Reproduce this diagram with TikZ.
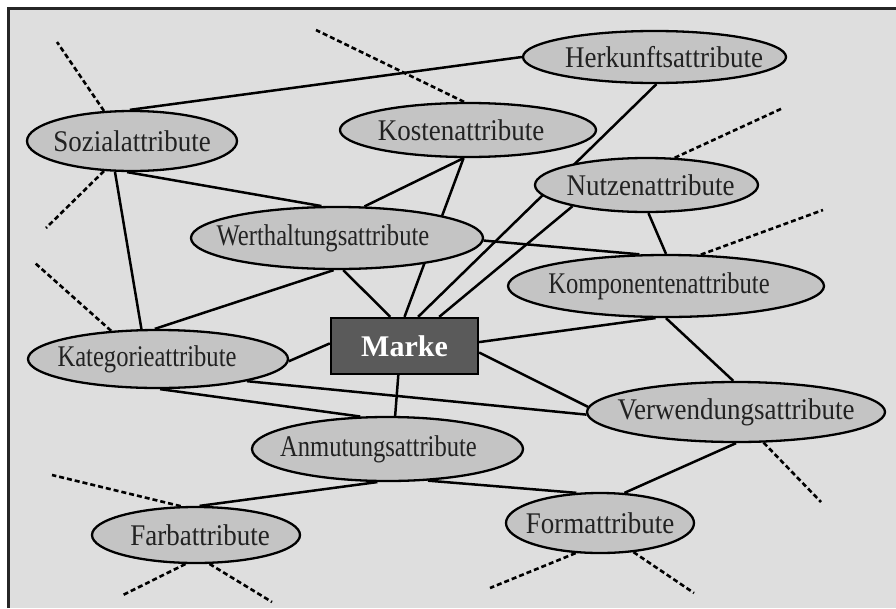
\documentclass[tikz,border=0pt]{standalone}
\usepackage{fontspec}
\setmainfont{Liberation Serif}
\newfontfamily\labelserif[FakeStretch=0.9]{Liberation Serif}
\newfontfamily\narrowserif[FakeStretch=0.82]{Liberation Serif}
\usetikzlibrary{shapes.geometric}
\pgfdeclarelayer{panel}
\pgfdeclarelayer{links}
\pgfsetlayers{panel,links,main}
\definecolor{panelgray}{RGB}{222,222,222}
\definecolor{attrgray}{RGB}{196,196,196}
\definecolor{brandgray}{RGB}{90,90,90}
\definecolor{inkgray}{RGB}{34,34,34}
% shift a label sideways inside its ellipse by #1
\newcommand{\nudge}[2]{\hspace*{#1}\hspace*{#1}#2}
\tikzset{
  attr/.style={ellipse, draw=black, line width=2.3pt, fill=attrgray,
    inner xsep=-80pt, inner ysep=-14pt,
    text=inkgray, font=\fontsize{30}{32}\labelserif},
  narrow/.style={font=\fontsize{30}{32}\narrowserif},
  brand/.style={rectangle, draw=black, line width=2.3pt, fill=brandgray, text=white,
    font=\fontsize{30}{32}\selectfont\bfseries, minimum width=147pt, minimum height=56pt, inner sep=0pt},
  link/.style={line width=2.5pt, draw=black},
  hint/.style={line width=2.6pt, draw=black, dash pattern=on 5pt off 3pt}
}
\begin{document}
\begin{tikzpicture}[x=1pt,y=-1pt]
\useasboundingbox (0,0) rectangle (896,608);
\begin{pgfonlayer}{panel}
  \fill[panelgray] (8.5,8.5) rectangle (896,608);
  \draw[line width=3pt, color=black!85] (8.5,608) -- (8.5,8.5) -- (896,8.5);
\end{pgfonlayer}

% attribute ellipses and the brand box
\node[attr, minimum width=263pt, minimum height=52pt] (her) at (654.5,57) {\nudge{9.5pt}{Herkunftsattribute}};
\node[attr, minimum width=210pt, minimum height=60pt] (soz) at (132,141) {Sozialattribute};
\node[attr, minimum width=256pt, minimum height=54pt] (kos) at (468,130) {\nudge{-7pt}{Kostenattribute}};
\node[attr, minimum width=223pt, minimum height=54pt] (nut) at (646.5,185) {\nudge{4pt}{Nutzenattribute}};
\node[attr, narrow, minimum width=292pt, minimum height=62pt] (wer) at (337,238) {\nudge{-14pt}{Werthaltungsattribute}};
\node[attr, narrow, minimum width=316pt, minimum height=62pt] (kom) at (666,286) {\nudge{-7pt}{Komponentenattribute}};
\node[brand] (mar) at (404.5,346) {Marke};
\node[attr, narrow, minimum width=260pt, minimum height=58pt] (kat) at (158,359) {\nudge{-11pt}{Kategorieattribute}};
\node[attr, minimum width=298pt, minimum height=60pt] (ver) at (736,412) {Verwendungsattribute};
\node[attr, narrow, minimum width=271pt, minimum height=64pt] (anm) at (387.5,449) {\nudge{-9pt}{Anmutungsattribute}};
\node[attr, minimum width=208pt, minimum height=56pt] (far) at (196,535) {\nudge{4pt}{Farbattribute}};
\node[attr, minimum width=188pt, minimum height=60pt] (for) at (600,523) {Formattribute};

% free ends of the dashed hints
\coordinate (hsozA) at (57,42);
\coordinate (hsozB) at (46,228);
\coordinate (hkos) at (316,30);
\coordinate (hnut) at (783,108);
\coordinate (hkom) at (823,210);
\coordinate (hkat) at (35,263);
\coordinate (hver) at (821,502);
\coordinate (hfarA) at (52,475);
\coordinate (hfarB) at (123,595);
\coordinate (hfarC) at (272,602);
\coordinate (hforA) at (490,588);
\coordinate (hforB) at (694,593);

\begin{pgfonlayer}{links}
  \draw[link] (soz.94) -- (her.180);
  \draw[link] (soz.261) -- (wer.116);
  \draw[link] (soz.241) -- (kat.119);
  \draw[link] (kos.261.6) -- (mar.north);
  \draw[link] (kos.261.6) -- (wer.49);
  \draw[link] (wer.281) -- (mar.116.6);
  \draw[link] (mar.65.1) -- (her.274);
  \draw[link] (mar.40.3) -- (nut.196.7);
  \draw[link] (nut.274) -- (kom.90);
  \draw[link] (wer.359) -- (kom.130.4);
  \draw[link] (kat.96) -- (wer.264.5);
  \draw[link] (kat.359) -- (mar.178);
  \draw[link] (mar.3.1) -- (kom.252);
  \draw[link] (mar.355.3) -- (ver.178);
  \draw[link] (mar.258) -- (anm.77.7);
  \draw[link] (kat.346) -- (ver.181);
  \draw[link] (kat.274) -- (anm.130.7);
  \draw[link] (anm.253) -- (far.83.9);
  \draw[link] (anm.322.6) -- (for.128.4);
  \draw[link] (ver.270) -- (for.51.6);
  \draw[link] (kom.270) -- (ver.95.7);

  \draw[hint] (soz.133) -- (hsozA);
  \draw[hint] (soz.227) -- (hsozB);
  \draw[hint] (kos.98.4) -- (hkos);
  \draw[hint] (nut.44.1) -- (hnut);
  \draw[hint] (kom.42.6) -- (hkom);
  \draw[hint] (kat.149.5) -- (hkat);
  \draw[hint] (ver.312.5) -- (hver);
  \draw[hint] (far.118.4) -- (hfarA);
  \draw[hint] (far.250) -- (hfarB);
  \draw[hint] (far.295) -- (hfarC);
  \draw[hint] (for.231.6) -- (hforA);
  \draw[hint] (for.319.6) -- (hforB);
\end{pgfonlayer}
\end{tikzpicture}
\end{document}
